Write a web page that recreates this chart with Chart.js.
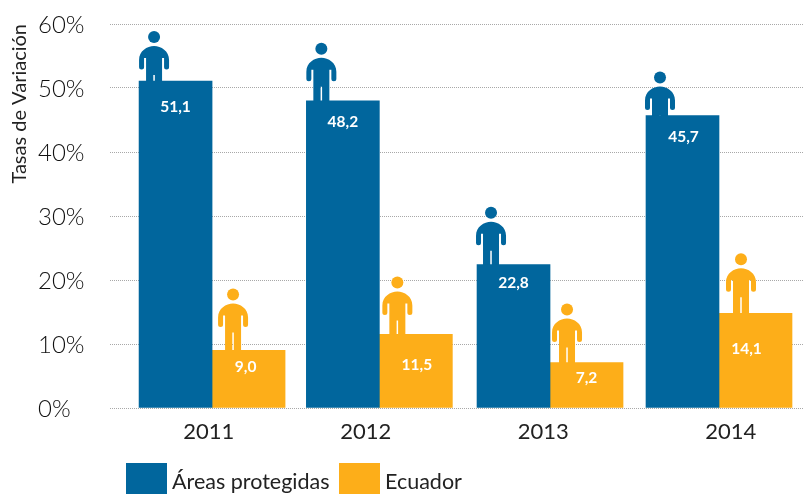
<!DOCTYPE html>
<html>
<head>
<meta charset="utf-8">
<script src="https://cdn.jsdelivr.net/npm/chart.js@4"></script>
<style>
  body { margin: 0; background: #fff; width: 804px; height: 494px; overflow: hidden; position: relative; }
  canvas { position: absolute; left: 0; top: 0; }
  .key { position: absolute; top: 463px; width: 41px; height: 31px; }
  .key-text { position: absolute; top: 466px; font: 21.5px Lato, sans-serif; color: #222; line-height: 30px; white-space: nowrap; }
</style>
</head>
<body>
<canvas id="chart" width="804" height="494"></canvas>
<script>
const years = ['2011', '2012', '2013', '2014'];
const barCenters = [2011, 2011.99, 2013, 2014];
const yearTicks = [2010.98, 2011.91, 2012.96, 2014.07];
const seriesNames = ['Áreas protegidas', 'Ecuador'];
const protegidas = [51.1, 48.0, 22.4, 45.7];
const ecuador = [9.0, 11.5, 7.1, 14.8];
const protegidasLabels = ['51,1', '48,2', '22,8', '45,7'];
const ecuadorLabels = ['9,0', '11,5', '7,2', '14,1'];

const BLUE = '#01669d';
const ORANGE = '#fdae19';

// hand placed annotations, pixels relative to the top and centre of each bar
const labelPlace = [
  [[0, 26], [0, 21], [0, 18], [1, 21]],
  [[-3, 17], [1, 31], [0, 15], [-9, 36]]
];
const personPlace = [
  [[-21.5, 44], [-21.5, 52], [-22.5, 52], [-22.5, 38]],
  [[-15.5, 56], [-18.5, 52], [-19.5, 53], [-14.5, 54]]
];

function drawPerson(ctx, x, y, color) {
  ctx.save();
  ctx.translate(x, y);
  ctx.fillStyle = color;
  ctx.beginPath();
  ctx.arc(0, 0, 6, 0, Math.PI * 2);
  ctx.fill();
  ctx.beginPath();
  ctx.moveTo(-15, 23);
  ctx.bezierCurveTo(-15, 14, -7, 9, 0, 9);
  ctx.bezierCurveTo(7, 9, 15, 14, 15, 23);
  ctx.lineTo(15, 30);
  ctx.arc(12.5, 30, 2.5, 0, Math.PI);
  ctx.lineTo(10, 21);
  ctx.lineTo(8, 21);
  ctx.lineTo(8, 64);
  ctx.lineTo(-8, 64);
  ctx.lineTo(-8, 21);
  ctx.lineTo(-10, 21);
  ctx.lineTo(-10, 30);
  ctx.arc(-12.5, 30, 2.5, 0, Math.PI);
  ctx.closePath();
  ctx.rect(-0.75, 38, 1.5, 26);
  ctx.fill('evenodd');
  ctx.restore();
}

const annotations = {
  id: 'annotations',
  beforeDatasetsDraw(chart) {
    chart.data.datasets.forEach((ds, i) => {
      chart.getDatasetMeta(i).data.forEach((bar, j) => {
        const p = personPlace[i][j];
        drawPerson(chart.ctx, bar.x + p[0], bar.y - p[1], ds.backgroundColor);
      });
    });
  },
  afterDatasetsDraw(chart) {
    const ctx = chart.ctx;
    const texts = [protegidasLabels, ecuadorLabels];
    ctx.save();
    ctx.fillStyle = '#fff';
    ctx.font = '700 15.5px Lato, sans-serif';
    ctx.textAlign = 'center';
    ctx.textBaseline = 'middle';
    chart.data.datasets.forEach((ds, i) => {
      chart.getDatasetMeta(i).data.forEach((bar, j) => {
        const p = labelPlace[i][j];
        ctx.fillText(texts[i][j], bar.x + p[0], bar.y + p[1]);
      });
    });
    ctx.restore();
  }
};

const toPoints = values => values.map((v, i) => ({ x: barCenters[i], y: v }));

const chart = new Chart(document.getElementById('chart'), {
  type: 'bar',
  data: {
    datasets: [
      { label: seriesNames[0], data: toPoints(protegidas), backgroundColor: BLUE },
      { label: seriesNames[1], data: toPoints(ecuador), backgroundColor: ORANGE }
    ]
  },
  options: {
    responsive: false,
    animation: false,
    barThickness: 73,
    layout: { padding: { left: 38, top: 24, right: 0, bottom: 0 } },
    plugins: { legend: { display: false }, tooltip: { enabled: false } },
    scales: {
      x: {
        type: 'linear',
        offset: false,
        min: 2010.396,
        max: 2014.503,
        grid: { display: false },
        border: { display: false },
        afterBuildTicks(axis) {
          axis.ticks = yearTicks.map(v => ({ value: v }));
        },
        afterFit(axis) {
          axis.height = 86;
        },
        ticks: {
          padding: 3,
          maxRotation: 0,
          autoSkip: false,
          color: '#222',
          font: { family: 'Lato, sans-serif', size: 22 },
          callback: value => years[yearTicks.indexOf(value)]
        }
      },
      y: {
        min: 0,
        max: 60,
        grid: { color: '#a8a8a8', lineWidth: 1, drawTicks: false },
        border: { display: false, dash: [1, 1] },
        afterFit(axis) {
          axis.width = 72;
        },
        ticks: {
          stepSize: 10,
          crossAlign: 'far',
          labelOffset: 1,
          color: '#111',
          font: { family: 'Lato, sans-serif', size: 24, weight: 300 },
          callback: value => value + '%'
        },
        title: {
          display: true,
          text: 'Tasas de Variación',
          align: 'end',
          color: '#222',
          padding: { top: -30, bottom: 0 },
          font: { family: 'Lato, sans-serif', size: 20 }
        }
      }
    }
  },
  plugins: [annotations]
});

// legend as plain html so it can sit where the original has it
const keyLeft = [126, 339];
const textLeft = [172, 385];
chart.data.datasets.forEach((ds, i) => {
  const key = document.createElement('div');
  key.className = 'key';
  key.style.left = keyLeft[i] + 'px';
  key.style.background = ds.backgroundColor;
  document.body.appendChild(key);
  const text = document.createElement('div');
  text.className = 'key-text';
  text.style.left = textLeft[i] + 'px';
  text.textContent = ds.label;
  document.body.appendChild(text);
});
</script>
</body>
</html>
